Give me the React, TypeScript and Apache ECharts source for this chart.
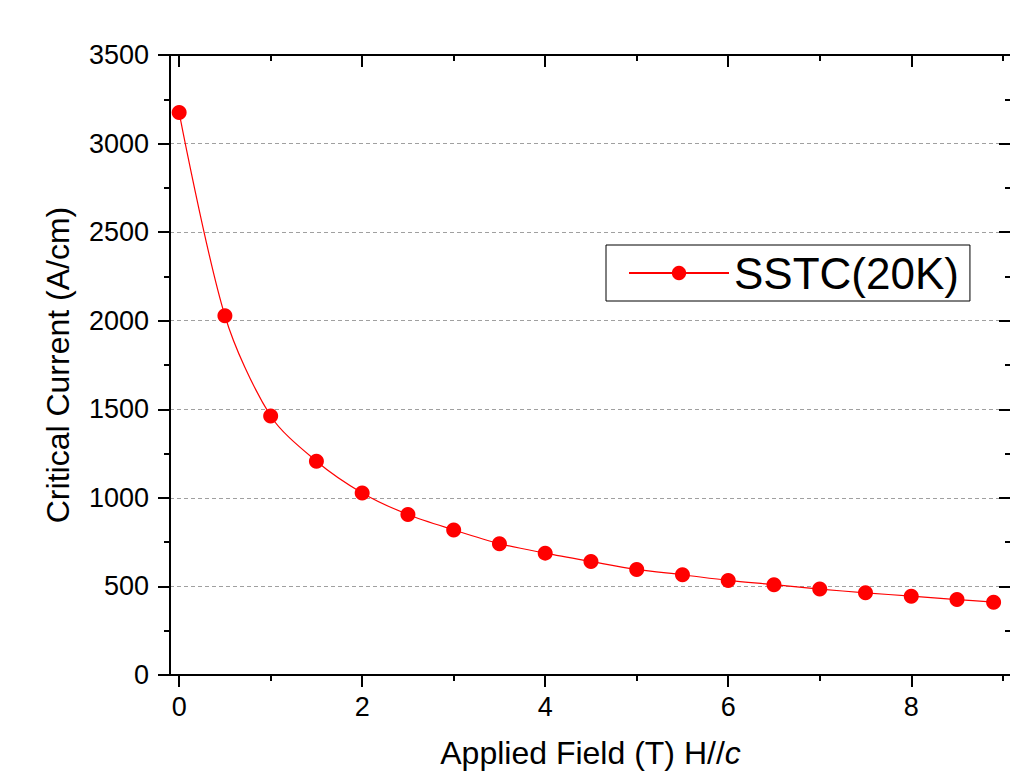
import React, { useEffect, useRef } from "react";
import * as echarts from "echarts";

const fieldT = [0, 0.5, 1, 1.5, 2, 2.5, 3, 3.5, 4, 4.5, 5, 5.5, 6, 6.5, 7, 7.5, 8, 8.5, 8.9];
const currentAcm = [3175, 2028, 1462, 1207, 1028, 906, 819, 741, 688, 641, 596, 566, 534, 510, 485, 464, 445, 426, 411];
const xMajor = [0, 2, 4, 6, 8];
const xMinor = [1, 3, 5, 7, 9];
const seriesName = "SSTC(20K)";

const FONT = "'Liberation Sans', Arial, sans-serif";
const RED = "#ff0000";
const X_MIN = -0.1;
const X_MAX = 9.09;

export default function App() {
  const ref = useRef<HTMLDivElement>(null);
  useEffect(() => {
    if (!ref.current) return;
    const chart = echarts.init(ref.current, undefined, { renderer: "svg" });
    const axisLine = { show: true, onZero: false, lineStyle: { color: "#000", width: 2 } };
    const baseX = (position: "top" | "bottom", ticks: number[], len: number, inside: boolean, labels: boolean, named: boolean) => ({
      type: "value",
      position,
      min: X_MIN,
      max: X_MAX,
      axisLine,
      axisTick: { show: true, customValues: ticks, length: len, inside, lineStyle: { color: "#000", width: 2 } },
      axisLabel: labels
        ? { show: true, customValues: xMajor, fontSize: 27, color: "#000", fontFamily: FONT, margin: 18 }
        : { show: false },
      splitLine: { show: false },
      ...(named
        ? {
            name: "Applied Field (T) H//{i|c}",
            nameLocation: "middle",
            nameGap: 62,
            nameTextStyle: {
              fontSize: 32,
              lineHeight: 32,
              color: "#000",
              fontFamily: FONT,
              rich: { i: { fontSize: 32, lineHeight: 32, fontStyle: "italic", color: "#000", fontFamily: FONT } },
            },
          }
        : {}),
    });
    chart.setOption({
      animation: false,
      backgroundColor: "#fff",
      grid: { left: 170, top: 55, right: 19, bottom: 96, containLabel: false, outerBoundsMode: "none" },
      legend: {
        data: [seriesName],
        left: 606,
        top: 245,
        orient: "horizontal",
        itemWidth: 100,
        itemHeight: 18,
        padding: [6, 11, 6, 22],
        borderColor: "#000",
        borderWidth: 1,
        textStyle: { fontSize: 44, color: "#000", fontFamily: FONT },
      },
      xAxis: [
        baseX("bottom", xMajor, 12, false, true, true),
        baseX("bottom", xMinor, 6, false, false, false),
        baseX("top", xMajor, 12, true, false, false),
        baseX("top", xMinor, 6, true, false, false),
      ],
      yAxis: [
        {
          type: "value",
          position: "left",
          min: 0,
          max: 3500,
          interval: 500,
          axisLine,
          axisTick: { show: true, length: 12, inside: false, lineStyle: { color: "#000", width: 2 } },
          minorTick: { show: true, splitNumber: 2, length: 6, lineStyle: { color: "#000", width: 2 } },
          axisLabel: { fontSize: 27, color: "#000", fontFamily: FONT, margin: 21, formatter: (v: number) => String(v) },
          splitLine: { show: true, lineStyle: { color: "#a0a0a0", width: 1, type: [4, 3] } },
          name: "Critical Current (A/cm)",
          nameLocation: "middle",
          nameGap: 96,
          nameRotate: 90,
          nameTextStyle: { fontSize: 32, color: "#000", fontFamily: FONT },
        },
        {
          type: "value",
          position: "right",
          min: 0,
          max: 3500,
          interval: 500,
          axisLine,
          axisTick: { show: true, length: 12, inside: true, lineStyle: { color: "#000", width: 2 } },
          minorTick: { show: true, splitNumber: 2, length: 6, lineStyle: { color: "#000", width: 2 } },
          axisLabel: { show: false },
          splitLine: { show: false },
        },
      ],
      series: [
        {
          name: seriesName,
          type: "line",
          xAxisIndex: 0,
          yAxisIndex: 0,
          data: fieldT.map((x, i) => [x, currentAcm[i]]),
          symbol: "circle",
          symbolSize: 15,
          smooth: 0.3,
          itemStyle: { color: RED },
          lineStyle: { color: RED, width: 1.2 },
        },
      ],
    });
    return () => chart.dispose();
  }, []);
  return (
    <div
      ref={ref}
      style={{ position: "fixed", left: 0, top: 0, width: 1030, height: 771, background: "#fff" }}
    />
  );
}
